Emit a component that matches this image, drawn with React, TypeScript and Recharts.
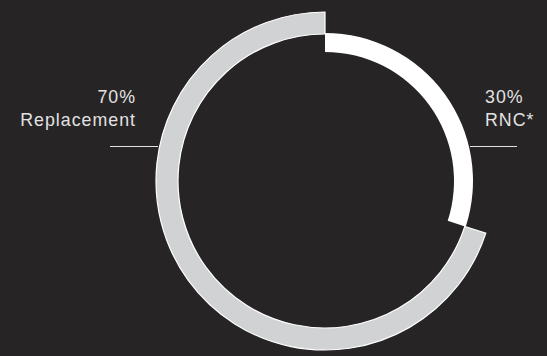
import React from "react";
import { PieChart, Pie, Cell } from "recharts";

const categories = ["RNC*", "Replacement"];
const shares = [30, 70];
const percentLabels = ["30%", "70%"];

const W = 547;
const H = 356;
const BG = "#272425";
const TEXT = "#e2e2e2";

const data = categories.map((name, i) => ({ name, value: shares[i] }));

const Labels = ({ cx, cy }: { cx: number; cy: number }) => (
  <g fontFamily="'Liberation Sans', Arial, sans-serif" fontSize={17.8} fill={TEXT} letterSpacing={1}>
    <text x={cx + 160} y={cy - 78}>{percentLabels[0]}</text>
    <text x={cx + 160} y={cy - 55}>{categories[0]}</text>
    <line x1={cx + 145} x2={cx + 192} y1={cy - 34.5} y2={cy - 34.5} stroke={TEXT} strokeWidth={1} />
    <text x={cx - 189} y={cy - 78} textAnchor="end">{percentLabels[1]}</text>
    <text x={cx - 189} y={cy - 55} textAnchor="end">{categories[1]}</text>
    <line x1={cx - 215} x2={cx - 167} y1={cy - 34.5} y2={cy - 34.5} stroke={TEXT} strokeWidth={1} />
  </g>
);

export default function App() {
  const cx = 325;
  const cy = 181;
  return (
    <div style={{ position: "fixed", left: 0, top: 0, width: W, height: H, background: BG }}>
      <PieChart width={W} height={H} margin={{ top: 0, right: 0, bottom: 0, left: 0 }}>
        <Pie
          data={data}
          dataKey="value"
          cx={cx}
          cy={cy}
          innerRadius={129}
          outerRadius={148}
          startAngle={90}
          endAngle={-270}
          stroke="none"
          isAnimationActive={false}
        >
          <Cell fill="#ffffff" />
          <Cell fill="transparent" />
        </Pie>
        <Pie
          data={data}
          dataKey="value"
          cx={cx}
          cy={cy}
          innerRadius={147}
          outerRadius={169}
          startAngle={90}
          endAngle={-270}
          isAnimationActive={false}
        >
          <Cell fill="transparent" stroke="none" />
          <Cell fill="#d1d2d4" stroke="#ffffff" strokeWidth={1.2} />
        </Pie>
        <Labels cx={cx} cy={cy} />
      </PieChart>
    </div>
  );
}
